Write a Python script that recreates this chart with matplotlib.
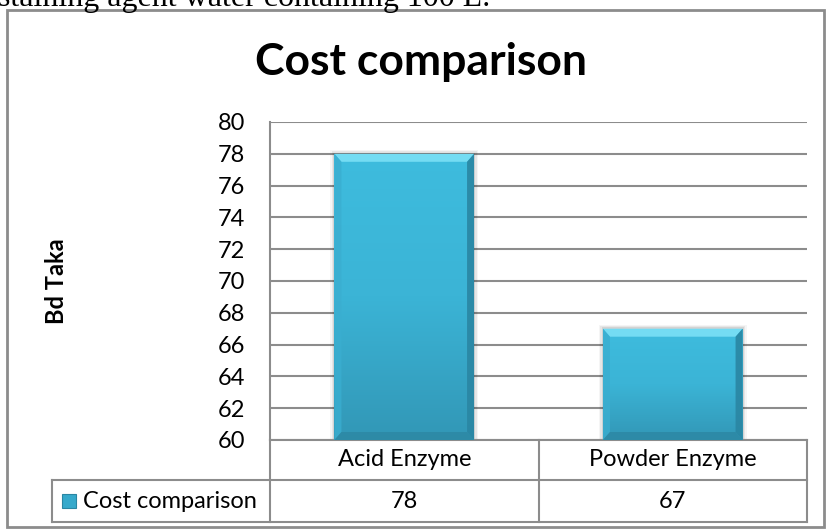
import numpy as np
import matplotlib.pyplot as plt
import matplotlib.transforms as mtransforms
from matplotlib.patches import Polygon, Rectangle
from matplotlib.lines import Line2D
from matplotlib.colors import LinearSegmentedColormap

plt.switch_backend("agg")
plt.rcParams["font.family"] = ["Lato", "DejaVu Sans"]

# data
categories = ["Acid Enzyme", "Powder Enzyme"]
values = [78, 67]
series_name = "Cost comparison"
title = "Cost comparison"
ylabel = "Bd Taka"
yticks = list(range(60, 81, 2))
caption = "staining agent water containing 100 L."

W, H = 826, 530
GRID = "#8c8c8c"
FS = 17

fig = plt.figure(figsize=(W / 100, H / 100), dpi=100)


def fx(px):
    return px / W


def fy(py):
    return 1 - py / H


# axes placed in pixel units of the reference
left, right, top, bottom = 270, 807, 122, 440
ax = fig.add_axes([fx(left), fy(bottom), fx(right - left), (bottom - top) / H])
ax.set_xlim(-0.5, len(categories) - 0.5)
ax.set_ylim(yticks[0], yticks[-1])
ax.set_yticks(yticks)
ax.set_xticks([])
ax.tick_params(axis="y", length=0, pad=18, labelsize=FS)
for s in ["top", "right", "bottom"]:
    ax.spines[s].set_visible(False)
ax.spines["left"].set_color(GRID)
ax.spines["left"].set_linewidth(1.5)
ax.yaxis.grid(True, color=GRID, linewidth=1.5)
ax.set_axisbelow(True)

# bars with gradient + bevel
bw = 0.52
cmap = LinearSegmentedColormap.from_list("face", ["#3297b6", "#3bb4d6", "#3ebcde"])
px_x = (len(categories)) / (right - left)
px_y = (yticks[-1] - yticks[0]) / (bottom - top)
bev_x, bev_y = 7 * px_x, 8 * px_y
y0 = yticks[0]
for i, v in enumerate(values):
    xl, xr = i - bw / 2, i + bw / 2
    # soft shadow
    for k, a in [(4, 0.04), (2.5, 0.06), (1.2, 0.08)]:
        ax.add_patch(Rectangle((xl - k * px_x, y0), bw + 2 * k * px_x, v - y0 + k * px_y,
                               facecolor="#000000", alpha=a, edgecolor="none", zorder=2))
    bar = ax.bar(i, v - y0, bottom=y0, width=bw, color="#3bb4d6", zorder=3)[0]
    grad = np.linspace(0, 1, 256).reshape(-1, 1)
    im = ax.imshow(grad, cmap=cmap, extent=[xl, xr, y0, v], origin="lower",
                   aspect="auto", zorder=3.5)
    im.set_clip_path(bar)
    # bevel strips
    top_poly = [(xl, v), (xr, v), (xr - bev_x, v - bev_y), (xl + bev_x, v - bev_y)]
    left_poly = [(xl, v), (xl + bev_x, v - bev_y), (xl + bev_x, y0 + bev_y), (xl, y0)]
    right_poly = [(xr, v), (xr - bev_x, v - bev_y), (xr - bev_x, y0 + bev_y), (xr, y0)]
    bot_poly = [(xl, y0), (xr, y0), (xr - bev_x, y0 + bev_y), (xl + bev_x, y0 + bev_y)]
    ax.add_patch(Polygon(top_poly, closed=True, facecolor="#74dcf3", edgecolor="none", zorder=4))
    ax.add_patch(Polygon(left_poly, closed=True, facecolor="#3aaed0", alpha=0.8, edgecolor="none", zorder=4))
    ax.add_patch(Polygon(right_poly, closed=True, facecolor="#2a86a3", alpha=0.9, edgecolor="none", zorder=4))
    ax.add_patch(Polygon(bot_poly, closed=True, facecolor="#2c87a3", alpha=0.8, edgecolor="none", zorder=4))
ax.set_xlim(-0.5, len(categories) - 0.5)
ax.set_ylim(yticks[0], yticks[-1])

# data table below axes
tr = mtransforms.blended_transform_factory(ax.transData, ax.transAxes)
row1 = -40 / (bottom - top)
row2 = -82 / (bottom - top)
xleg = -0.5 - (left - 52) * px_x
n = len(categories)
lk = dict(color=GRID, linewidth=1.5, transform=tr, clip_on=False)
ax.add_line(Line2D([-0.5, n - 0.5], [0, 0], **lk))
ax.add_line(Line2D([xleg, n - 0.5], [row1, row1], **lk))
ax.add_line(Line2D([xleg, n - 0.5], [row2, row2], **lk))
ax.add_line(Line2D([xleg, xleg], [row1, row2], **lk))
for b in np.arange(n + 1) - 0.5:
    ax.add_line(Line2D([b, b], [0, row2], **lk))
for i, c in enumerate(categories):
    ax.text(i, row1 / 2, c, transform=tr, ha="center", va="center", fontsize=FS)
    ax.text(i, (row1 + row2) / 2, str(values[i]), transform=tr, ha="center",
            va="center", fontsize=FS)
# legend key
ax.add_patch(Rectangle((xleg + 10 * px_x, (row1 + row2) / 2 - 7 / (bottom - top)),
                       14 * px_x, 14 / (bottom - top), transform=tr, clip_on=False,
                       facecolor="#36a9cb", edgecolor="#2a86a3", linewidth=0.8))
ax.text(xleg + 31 * px_x, (row1 + row2) / 2, series_name, transform=tr,
        ha="left", va="center", fontsize=FS)

# title, y label, outer frame, caption
fig.text(fx(421), fy(75), title, ha="center", va="baseline", fontsize=32,
         fontweight="bold")
fig.text(fx(56), fy(281), ylabel, ha="center", va="center", rotation=90,
         fontsize=FS, fontweight="bold")
fig.add_artist(Rectangle((fx(7), fy(527)), fx(817), (517) / H, transform=fig.transFigure,
                         facecolor="none", edgecolor=GRID, linewidth=2))
fig.text(fx(-2), fy(6), caption, ha="left", va="baseline", fontsize=23,
         family="Liberation Serif")

fig.savefig("out.png", dpi=100)
